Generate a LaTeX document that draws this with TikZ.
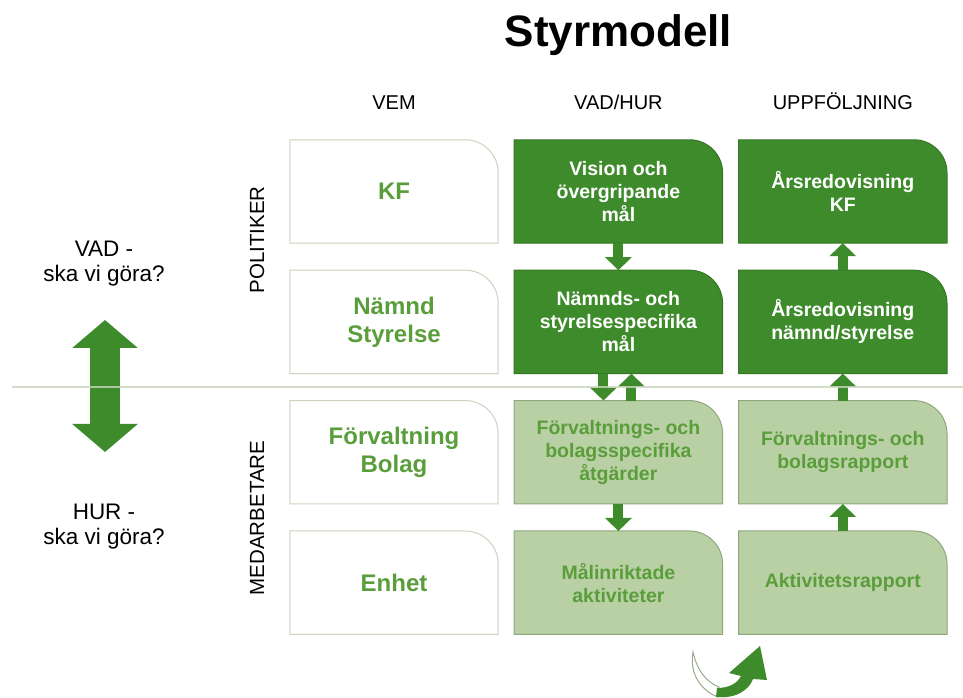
\documentclass[tikz,border=0pt]{standalone}
\usepackage{fontspec}
\setmainfont{Liberation Sans}
\usetikzlibrary{arrows.meta, positioning}
\definecolor{dkgreen}{HTML}{3E8B2B}
\definecolor{ltgreen}{HTML}{B8D0A3}
\definecolor{ltedge}{HTML}{8FA77E}
\definecolor{txtgreen}{HTML}{5A9E3C}
\definecolor{vemedge}{HTML}{C9D4BF}
\definecolor{rulegray}{HTML}{C8D5BC}
\definecolor{tailgray}{HTML}{9AAA90}
\pgfdeclarelayer{bg}
\pgfsetlayers{bg,main}
\tikzset{
  box/.style={minimum width=208pt, minimum height=103pt, inner sep=0pt, align=center},
  vembox/.style={box, text=txtgreen, font=\fontsize{24}{28}\selectfont\bfseries},
  darkbox/.style={box, text=white, font=\fontsize{19.5}{23}\selectfont\bfseries},
  lightbox/.style={box, text=txtgreen, font=\fontsize{19.5}{23}\selectfont\bfseries},
  head/.style={inner sep=0pt, font=\fontsize{20}{24}\selectfont},
  group/.style={inner sep=0pt, rotate=90, font=\fontsize{20.5}{24}\selectfont},
  side/.style={inner sep=0pt, align=center, font=\fontsize{22.5}{25}\selectfont},
  flow/.style={dkgreen, line width=10pt, -{Triangle[width=26pt, length=13pt]}},
}

\begin{document}
\begin{tikzpicture}[x=1pt, y=1pt, node distance=27pt and 16pt]
\useasboundingbox (0,0) rectangle (963,698);
% VEM
\node[vembox] (kf) at (394,506.5) {KF};
\node[vembox, below=of kf] (nmd) {Nämnd\\Styrelse};
\node[vembox, below=of nmd] (forv) {Förvaltning\\Bolag};
\node[vembox, below=of forv] (enh) {Enhet};
% VAD/HUR
\node[darkbox, right=of kf] (vis) {Vision och\\övergripande\\mål};
\node[darkbox, below=of vis] (nsm) {Nämnds- och\\styrelsespecifika\\mål};
\node[lightbox, below=of nsm] (fbs) {Förvaltnings- och\\bolagsspecifika\\åtgärder};
\node[lightbox, below=of fbs] (mal) {Målinriktade\\aktiviteter};
% UPPFÖLJNING
\node[darkbox, right=of vis] (arkf) {Årsredovisning\\KF};
\node[darkbox, below=of arkf] (arns) {Årsredovisning\\nämnd/styrelse};
\node[lightbox, below=of arns] (fbr) {Förvaltnings- och\\bolagsrapport};
\node[lightbox, below=of fbr] (akt) {Aktivitetsrapport};

\begin{pgfonlayer}{bg}
\foreach \n/\f/\d in {kf/white/vemedge, nmd/white/vemedge, forv/white/vemedge, enh/white/vemedge,
    vis/dkgreen/dkgreen!85!black, nsm/dkgreen/dkgreen!85!black, arkf/dkgreen/dkgreen!85!black, arns/dkgreen/dkgreen!85!black,
    fbs/ltgreen/ltedge, mal/ltgreen/ltedge, fbr/ltgreen/ltedge, akt/ltgreen/ltedge}
  \draw[fill=\f, draw=\d, line width=1pt] (\n.south west) -- (\n.north west)
    -- ([xshift=-33pt]\n.north east) arc[start angle=90, end angle=0, radius=33pt]
    -- (\n.south east) -- cycle;
\end{pgfonlayer}

% headers
\node[head, above=30pt of kf.north, anchor=base] (vem) {VEM};
\node[head, above=30pt of vis.north, anchor=base] (vadhur) {VAD/HUR};
\node[head, above=30pt of arkf.north, anchor=base] (uppf) {UPPFÖLJNING};
\node[font=\fontsize{44}{50}\selectfont\bfseries, above=63pt of vadhur.base, anchor=base] (title) {Styrmodell};

\node[group] (pol) at (257,458) {POLITIKER};
\node[group] (med) at (257,180) {MEDARBETARE};

\node[side] (vad) at (104,434) {VAD -\\ska vi göra?};
\node[side] (hur) at (104,171) {HUR -\\ska vi göra?};

\coordinate (top) at (105,378);
\coordinate (bot) at (105,246);
\draw[dkgreen, line width=30pt, {Triangle[width=64pt, length=28pt]}-{Triangle[width=64pt, length=28pt]}] (bot) -- (top);

% flows
\draw[flow] (vis) -- (nsm);
\draw[flow] ([xshift=-15pt]nsm.south) -- ([xshift=-15pt]fbs.north);
\draw[flow] ([xshift=13pt]fbs.north) -- ([xshift=13pt]nsm.south);
\draw[flow] (fbs) -- (mal);
\draw[flow] (akt) -- (fbr);
\draw[flow] (fbr) -- (arns);
\draw[flow] (arns) -- (arkf);

\coordinate (rl) at (12,311);
\coordinate (rr) at (963,311);
\draw[rulegray, line width=1.2pt, opacity=0.8] (rl) -- (rr);

% curved arrow
\begin{scope}[shift={(0,698)}, yscale=-1]
\draw[fill=white, draw=tailgray, line width=1pt] (693,652) .. controls (689,675) and (702,691) .. (718,697)
  -- (719,687) .. controls (706,682) and (697,670) .. cycle;
\fill[dkgreen] (716,697) .. controls (736,699) and (749,690) .. (753,679) -- (767,680) -- (760,646)
  -- (729,673) -- (741,676) .. controls (737,684) and (728,688) .. (717,688) -- cycle;
\end{scope}
\end{tikzpicture}
\end{document}
